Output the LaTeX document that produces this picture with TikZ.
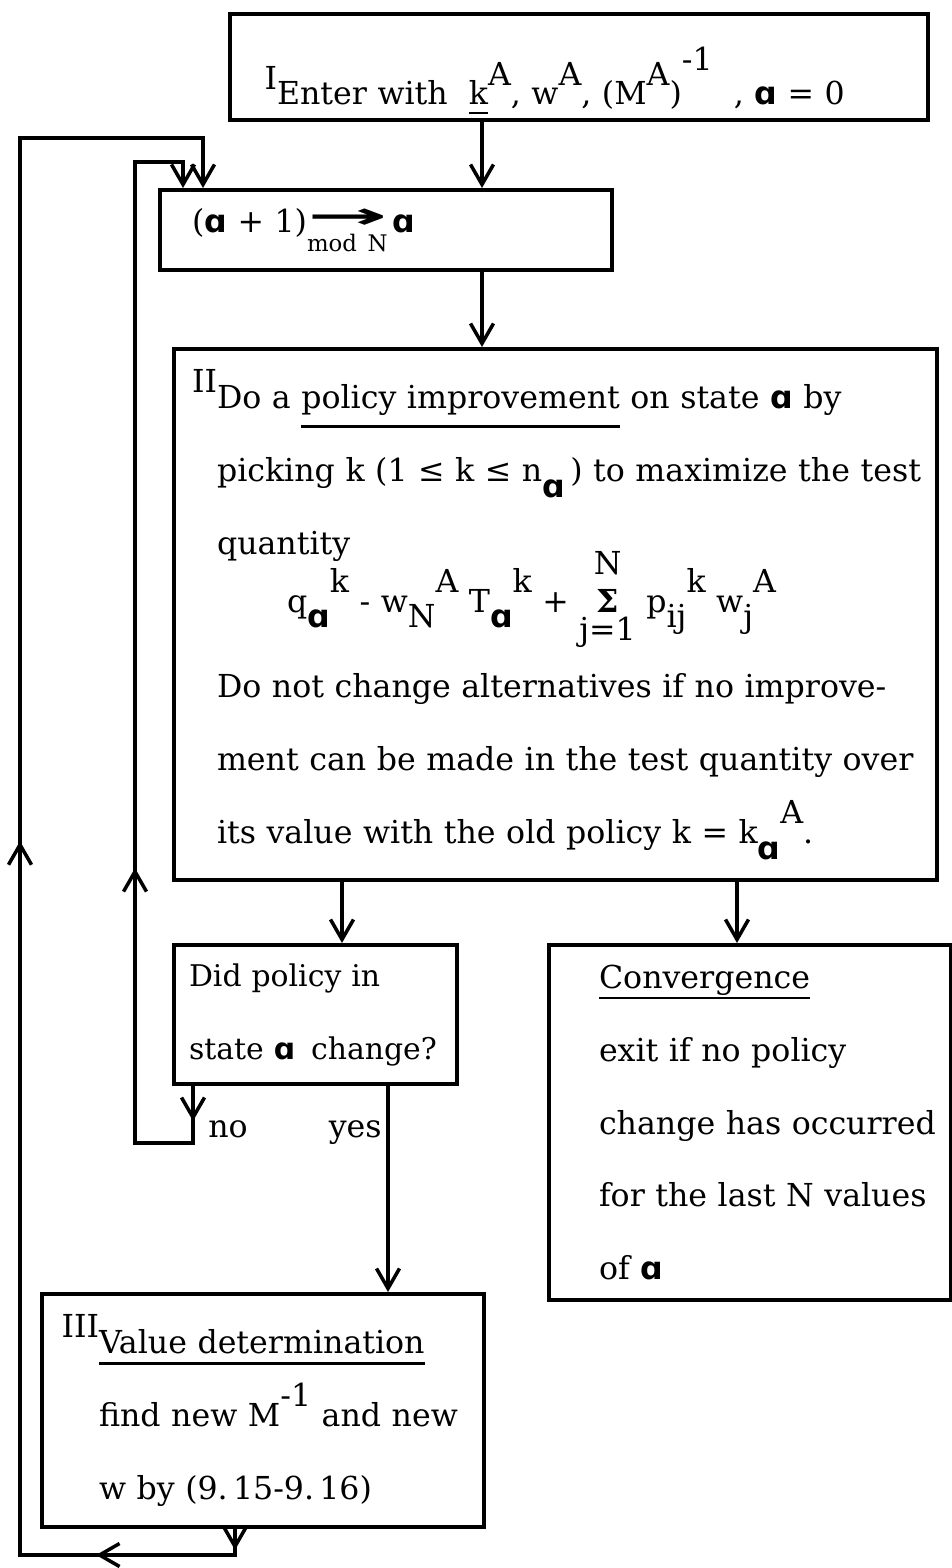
\documentclass[tikz,border=0pt]{standalone}
\usepackage{fontspec}
\usepackage{graphicx}
\setmainfont{DejaVu Serif}
\newfontfamily\alfont{DejaVu Sans}
\usetikzlibrary{arrows.meta,decorations.markings}

\newcommand\alp{{\alfont\bfseries ɑ}}
\newcommand\up[1]{\raisebox{0.62em}{#1}}
\newcommand\dn[1]{\raisebox{-0.5em}{#1}}
\newcommand\num[1]{\raisebox{0.5em}{#1}}
\newcommand\ul[2][0.5em]{\setbox0\hbox{#2}\rlap{\rule[-#1]{\wd0}{1.5pt}}\box0\relax}
\newcommand\bigsum{\ooalign{\hfil\raisebox{1.2em}{N}\hfil\cr\hfil\textbf{Σ}\hfil\cr\hfil\raisebox{-0.9em}{j=1}\hfil\cr}}
\newcommand\lmargin[1]{\parindent=0pt\leftskip=#1\rightskip=-3cm plus 1fil\noindent}
\newcommand\modarrow{\setbox2\hbox{\fontsize{13}{13}\selectfont mod N}%
  \rlap{\raisebox{-0.6em}{\copy2}}\raisebox{0.12em}{\resizebox{\wd2}{0.62em}{\alfont\bfseries →}}}

\tikzset{
  box/.style={draw, line width=2.3pt, anchor=north west, inner sep=0pt, align=left,
    font=\fontsize{18}{41.5}\selectfont},
  lbl/.style={inner sep=0pt, font=\fontsize{18}{41.5}\selectfont},
  flow/.style={line width=2pt},
  >={Straight Barb[length=4mm,width=4.6mm]},
  mid/.style={postaction={decorate,decoration={markings,mark=at position #1 with {\arrow{>}}}}}
}

\begin{document}
\begin{tikzpicture}[x=0.02cm,y=-0.02cm]
  \path[use as bounding box, fill=white] (0,0) rectangle (952,1568);

  % boxes
  \node[box, text width=13.96cm, minimum height=2.12cm] (enter) at (228,12)
    {\lmargin{0.94cm}\rule{0pt}{2.7em}\llap{\num{I}}Enter with\ \ \ul[0.3em]{k}\up{A}, w\up{A}, (M\up{A})\raisebox{1.1em}{-1}\ \ , \alp{} = 0\par};
  \node[box, text width=9.04cm, minimum height=1.6cm] (modbox) at (158,188)
    {\lmargin{0.64cm}(\alp{} + 1)\modarrow\,\alp\par};
  \node[box, text width=15.26cm, minimum height=10.62cm] (improve) at (172,347)
    {\lmargin{0.86cm}\llap{\num{II}}Do a \ul[0.62em]{policy improvement} on state \alp{} by\\
     picking k (1 ≤ k ≤ n\dn{\alp}\,) to maximize the test\\
     quantity\\[-0.3cm]
     \hspace*{1.4cm}q\dn{\alp}\up{k} - w\dn{N}\up{A} T\dn{\alp}\up{k} + \bigsum\ p\dn{ij}\up{k} w\dn{j}\up{A}\\[0.25cm]
     Do not change alternatives if no improve-\\
     ment can be made in the test quantity over\\
     its value with the old policy k = k\dn{\alp}\up{A}.\par};
  \node[box, text width=5.66cm, minimum height=2.78cm, font=\fontsize{17}{41.5}\selectfont] (changed) at (172,943)
    {\lmargin{0.3cm}Did policy in\\ state \alp{}\ \hspace{0.2em}change?\par};
  \node[box, text width=8.04cm, minimum height=7.1cm] (converge) at (547,943)
    {\lmargin{1.0cm}\ul[0.35em]{Convergence}\\ exit if no policy\\ change has occurred\\ for the last N values\\ of \alp\par};
  \node[box, text width=8.84cm, minimum height=4.66cm] (valuedet) at (40,1292)
    {\lmargin{1.14cm}\llap{\num{III}}\ul[0.35em]{Value determination}\\ find new M\up{-1} and new\\ w by (9.\,15-9.\,16)\par};

  \node[lbl, anchor=base west] (no) at (208,1137) {no};
  \node[lbl, anchor=base east] (yes) at (382,1137) {yes};

  % columns and corners
  \coordinate (colA) at (482,0);
  \coordinate (colB) at (342,0);
  \coordinate (colC) at (737,0);
  \coordinate (colD) at (388,0);
  \coordinate (n1) at (193,1143);
  \coordinate (n2) at (135,1143);
  \coordinate (n3) at (135,162);
  \coordinate (n4) at (183,162);
  \coordinate (o1) at (235,1555);
  \coordinate (o2) at (20,1555);
  \coordinate (o3) at (20,138);
  \coordinate (o4) at (203,138);

  \draw[flow,->] (colA |- enter.south) -- (colA |- modbox.north);
  \draw[flow,->] (colA |- modbox.south) -- (colA |- improve.north);
  \draw[flow,->] (colB |- improve.south) -- (colB |- changed.north);
  \draw[flow,->] (colC |- improve.south) -- (colC |- converge.north);
  \draw[flow,->] (colD |- changed.south) -- (colD |- valuedet.north);

  % no: back to the top
  \draw[flow,->,mid=0.7cm,mid=7.8cm] (n1 |- changed.south) -- (n1) -- (n2) -- (n3) -- (n4) -- (n4 |- modbox.north);
  % after value determination
  \draw[flow,->,mid=0.42cm,mid=3.3cm,mid=19.1cm] (o1 |- valuedet.south) -- (o1) -- (o2) -- (o3) -- (o4) -- (o4 |- modbox.north);
\end{tikzpicture}
\end{document}
